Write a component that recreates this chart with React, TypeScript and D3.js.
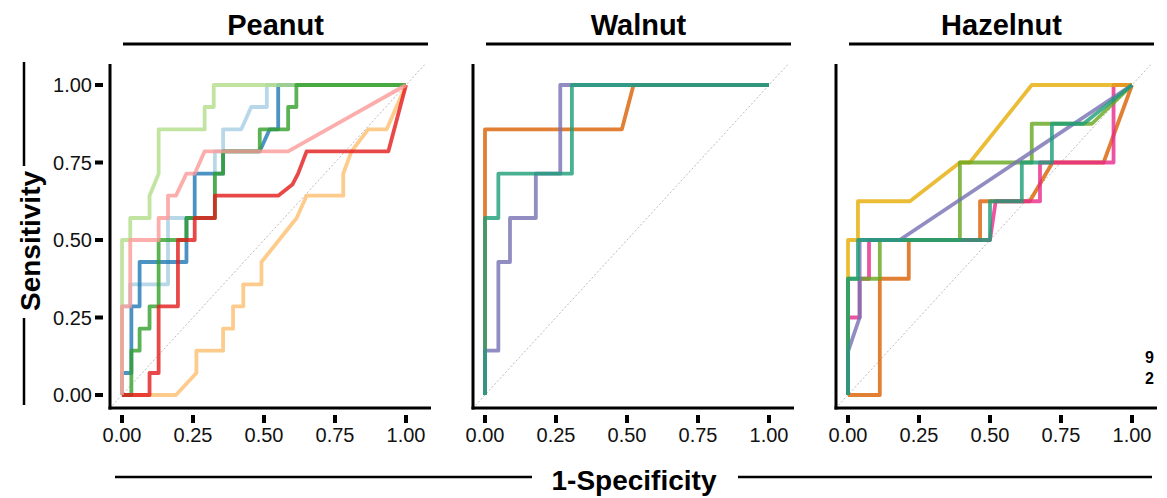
import React from "react";
import * as d3 from "d3";

type Pt = [number, number];

const panelTitles = ["Peanut", "Walnut", "Hazelnut"];
const tickValues = [0, 0.25, 0.5, 0.75, 1];
const tickLabels = ["0.00", "0.25", "0.50", "0.75", "1.00"];
const legendBits = ["9", "2"];

// Peanut (Paired palette)
const peanutOrange: Pt[] = [[0, 0], [0.19, 0], [0.262, 0.071], [0.262, 0.143], [0.356, 0.143], [0.356, 0.214], [0.391, 0.214], [0.391, 0.286], [0.427, 0.286], [0.427, 0.357], [0.491, 0.357], [0.491, 0.429], [0.615, 0.571], [0.65, 0.643], [0.779, 0.643], [0.779, 0.714], [0.808, 0.786], [0.867, 0.857], [0.932, 0.857], [1, 1]];
const peanutLightBlue: Pt[] = [[0, 0], [0, 0.286], [0.029, 0.286], [0.029, 0.357], [0.162, 0.357], [0.162, 0.571], [0.327, 0.571], [0.327, 0.786], [0.356, 0.786], [0.356, 0.857], [0.42, 0.857], [0.455, 0.929], [0.51, 0.929], [0.51, 1], [1, 1]];
const peanutBlue: Pt[] = [[0, 0], [0, 0.071], [0.033, 0.071], [0.033, 0.286], [0.062, 0.286], [0.062, 0.429], [0.227, 0.429], [0.227, 0.571], [0.256, 0.571], [0.256, 0.714], [0.356, 0.714], [0.356, 0.786], [0.485, 0.786], [0.52, 0.857], [0.55, 0.857], [0.55, 1], [1, 1]];
const peanutLightGreen: Pt[] = [[0, 0], [0, 0.5], [0.029, 0.5], [0.029, 0.571], [0.097, 0.571], [0.097, 0.643], [0.129, 0.714], [0.129, 0.857], [0.291, 0.857], [0.291, 0.929], [0.323, 0.929], [0.323, 1], [1, 1]];
const peanutGreen: Pt[] = [[0, 0], [0.033, 0], [0.033, 0.143], [0.062, 0.143], [0.062, 0.214], [0.097, 0.214], [0.097, 0.286], [0.129, 0.286], [0.129, 0.5], [0.227, 0.5], [0.227, 0.571], [0.327, 0.571], [0.327, 0.714], [0.356, 0.714], [0.356, 0.786], [0.485, 0.786], [0.485, 0.857], [0.585, 0.857], [0.585, 0.929], [0.614, 0.929], [0.614, 1], [1, 1]];
const peanutRed: Pt[] = [[0, 0], [0.097, 0], [0.097, 0.071], [0.129, 0.071], [0.129, 0.286], [0.197, 0.286], [0.197, 0.5], [0.256, 0.5], [0.256, 0.571], [0.327, 0.571], [0.327, 0.643], [0.55, 0.643], [0.6, 0.679], [0.62, 0.714], [0.65, 0.786], [0.938, 0.786], [1, 1]];
const peanutPink: Pt[] = [[0, 0], [0, 0.286], [0.029, 0.286], [0.029, 0.5], [0.129, 0.5], [0.129, 0.571], [0.162, 0.571], [0.162, 0.643], [0.19, 0.643], [0.227, 0.714], [0.256, 0.714], [0.291, 0.786], [0.585, 0.786], [1, 1]];

// Walnut (Dark2)
const walnutOrange: Pt[] = [[0, 0], [0, 0.857], [0.482, 0.857], [0.523, 1], [1, 1]];
const walnutPurple: Pt[] = [[0, 0], [0, 0.143], [0.047, 0.143], [0.047, 0.429], [0.088, 0.429], [0.088, 0.571], [0.179, 0.571], [0.179, 0.714], [0.265, 0.714], [0.265, 1], [1, 1]];
const walnutTeal: Pt[] = [[0, 0], [0, 0.571], [0.047, 0.571], [0.047, 0.714], [0.306, 0.714], [0.306, 1], [1, 1]];

// Hazelnut (Dark2)
const hazelOrange: Pt[] = [[0, 0], [0.112, 0], [0.112, 0.375], [0.214, 0.375], [0.214, 0.5], [0.465, 0.5], [0.465, 0.625], [0.64, 0.625], [0.72, 0.75], [0.9, 0.75], [1, 1]];
const hazelPink: Pt[] = [[0, 0], [0, 0.25], [0.041, 0.25], [0.041, 0.375], [0.074, 0.375], [0.074, 0.5], [0.5, 0.5], [0.52, 0.625], [0.676, 0.625], [0.676, 0.75], [0.935, 0.75], [0.935, 1], [1, 1]];
const hazelYellow: Pt[] = [[0, 0], [0, 0.5], [0.035, 0.5], [0.035, 0.625], [0.218, 0.625], [0.394, 0.75], [0.429, 0.75], [0.647, 1], [1, 1]];
const hazelGreen: Pt[] = [[0, 0], [0, 0.375], [0.112, 0.375], [0.112, 0.5], [0.394, 0.5], [0.394, 0.75], [0.647, 0.75], [0.647, 0.875], [0.859, 0.875], [1, 1]];
const hazelPurple: Pt[] = [[0, 0], [0, 0.14], [0.041, 0.25], [0.041, 0.5], [0.182, 0.5], [1, 1]];
const hazelTeal: Pt[] = [[0, 0], [0, 0.375], [0.035, 0.375], [0.035, 0.5], [0.5, 0.5], [0.5, 0.625], [0.612, 0.625], [0.612, 0.75], [0.718, 0.75], [0.718, 0.875], [0.829, 0.875], [1, 1]];

const panelSeries = [
  [
    { pts: peanutOrange, color: "#fdbf6f" },
    { pts: peanutLightBlue, color: "#a6cee3" },
    { pts: peanutBlue, color: "#1f78b4" },
    { pts: peanutLightGreen, color: "#b2df8a" },
    { pts: peanutGreen, color: "#33a02c" },
    { pts: peanutRed, color: "#e31a1c" },
    { pts: peanutPink, color: "#fb9a99" },
  ],
  [
    { pts: walnutOrange, color: "#d95f02" },
    { pts: walnutPurple, color: "#7570b3" },
    { pts: walnutTeal, color: "#1b9e77" },
  ],
  [
    { pts: hazelOrange, color: "#d95f02" },
    { pts: hazelPink, color: "#e7298a" },
    { pts: hazelYellow, color: "#e6ab02" },
    { pts: hazelGreen, color: "#66a61e" },
    { pts: hazelPurple, color: "#7570b3" },
    { pts: hazelTeal, color: "#1b9e77" },
  ],
];

const FONT = "'Liberation Sans', Arial, sans-serif";
const axisLeftX = [110, 473, 836];
const top = 64;
const bottom = 408;

const y = d3.scaleLinear().domain([0, 1]).range([395, 85]);

const Panel = ({ i }: { i: number }) => {
  const ax = axisLeftX[i];
  const x = d3.scaleLinear().domain([0, 1]).range([ax + 12, ax + 296]);
  const right = ax + 321;
  const line = d3.line<Pt>().x(d => x(d[0])).y(d => y(d[1]));
  const clipId = `clip${i}`;
  const d0 = -0.1, d1 = 1.15;

  return (
    <g>
      <defs>
        <clipPath id={clipId}>
          <rect x={ax} y={top} width={right - ax} height={bottom - top} />
        </clipPath>
      </defs>
      <text x={(ax + 13 + ax + 318) / 2} y={35} textAnchor="middle" fontFamily={FONT}
        fontWeight="bold" fontSize={29}>{panelTitles[i]}</text>
      <line x1={ax + 13} x2={ax + 318} y1={44} y2={44} stroke="#000" strokeWidth={3} />

      <g clipPath={`url(#${clipId})`}>
        <line x1={x(d0)} y1={y(d0)} x2={x(d1)} y2={y(d1)} stroke="#aaa"
          strokeWidth={0.8} strokeDasharray="2,2" />
        {panelSeries[i].map((s, k) => (
          <path key={k} d={line(s.pts) || ""} fill="none" stroke={s.color}
            strokeWidth={3.8} strokeOpacity={0.8} strokeLinejoin="round" />
        ))}
      </g>

      <line x1={ax} x2={ax} y1={top} y2={bottom + 1.5} stroke="#000" strokeWidth={3} />
      <line x1={ax - 1.5} x2={right} y1={bottom} y2={bottom} stroke="#000" strokeWidth={3} />

      {tickValues.map((v, k) => (
        <g key={k}>
          <line x1={x(v)} x2={x(v)} y1={415} y2={423} stroke="#000" strokeWidth={4} />
          <text x={x(v)} y={442} textAnchor="middle" fontFamily={FONT} fontSize={20}
            fill="#111">{tickLabels[k]}</text>
        </g>
      ))}

      {i === 0 && tickValues.map((v, k) => (
        <g key={"y" + k}>
          <line x1={95} x2={103} y1={y(v)} y2={y(v)} stroke="#000" strokeWidth={4} />
          <text x={92} y={y(v)} dy="0.36em" textAnchor="end" fontFamily={FONT}
            fontSize={20} fill="#111">{tickLabels[k]}</text>
        </g>
      ))}

      {i === 2 && legendBits.map((t, k) => (
        <text key={"l" + k} x={1145} y={363 + k * 21} fontFamily={FONT}
          fontWeight="bold" fontSize={16}>{t}</text>
      ))}
    </g>
  );
};

export default function App() {
  return (
    <svg width={1167} height={498} style={{ position: "absolute", left: 0, top: 0, background: "#fff" }}>
      {panelTitles.map((_, i) => <Panel key={i} i={i} />)}

      {/* y title with rules */}
      <line x1={24} x2={24} y1={62} y2={166} stroke="#000" strokeWidth={2.5} />
      <line x1={24} x2={24} y1={318} y2={405} stroke="#000" strokeWidth={2.5} />
      <text transform="translate(40,241) rotate(-90)" textAnchor="middle" fontFamily={FONT}
        fontWeight="bold" fontSize={28}>Sensitivity</text>

      {/* x title with rules */}
      <line x1={115} x2={532} y1={477} y2={477} stroke="#000" strokeWidth={2.5} />
      <line x1={738} x2={1152} y1={477} y2={477} stroke="#000" strokeWidth={2.5} />
      <text x={634} y={490} textAnchor="middle" fontFamily={FONT} fontWeight="bold"
        fontSize={28}>1-Specificity</text>
    </svg>
  );
}
